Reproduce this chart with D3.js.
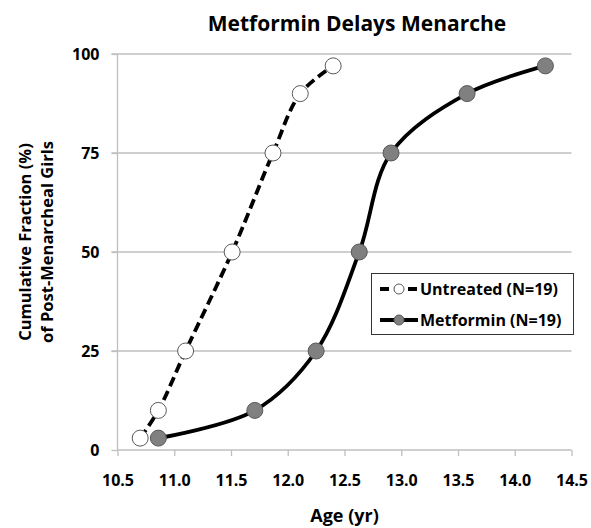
<!DOCTYPE html>
<html>
<head>
<meta charset="utf-8">
<script src="https://cdn.jsdelivr.net/npm/d3@7"></script>
<style>
  body { margin: 0; background: #fff; }
  text { font-family: "Open Sans", Lato, sans-serif; font-weight: 700; fill: #000; }
</style>
</head>
<body>
<div id="chart"></div>
<script>
// Chart data
var xTicks = [10.5, 11.0, 11.5, 12.0, 12.5, 13.0, 13.5, 14.0, 14.5];
var yTicks = [0, 25, 50, 75, 100];

var untreatedAge = [10.70, 10.86, 11.10, 11.51, 11.87, 12.11, 12.40];
var untreatedPct = [3, 10, 25, 50, 75, 90, 97];

var metforminAge = [10.86, 11.71, 12.25, 12.63, 12.91, 13.58, 14.27];
var metforminPct = [3, 10, 25, 50, 75, 90, 97];

var seriesNames = ["Untreated (N=19)", "Metformin (N=19)"];

// SVG area
var svgWidth = 591;
var svgHeight = 528;

var svg = d3.select("#chart")
  .append("svg")
  .attr("width", svgWidth)
  .attr("height", svgHeight);

// Scales
var xScale = d3.scaleLinear()
  .domain([10.5, 14.5])
  .range([117.5, 571.5]);

var yScale = d3.scaleLinear()
  .domain([0, 100])
  .range([450, 54]);

// Gridlines
svg.append("g")
  .selectAll("line")
  .data(yTicks.filter(d => d > 0))
  .enter()
  .append("line")
  .attr("x1", xScale(10.5) - 6)
  .attr("x2", xScale(14.5))
  .attr("y1", d => yScale(d))
  .attr("y2", d => yScale(d))
  .attr("stroke", "#bfbfbf")
  .attr("stroke-width", 1.3);

// Axes
var bottomAxis = d3.axisBottom(xScale)
  .tickValues(xTicks)
  .tickFormat(d3.format(".1f"))
  .tickSize(6)
  .tickPadding(19);

var leftAxis = d3.axisLeft(yScale)
  .tickValues(yTicks)
  .tickSize(6)
  .tickPadding(12);

var xAxisG = svg.append("g")
  .attr("transform", `translate(0, ${yScale(0)})`)
  .call(bottomAxis);

var yAxisG = svg.append("g")
  .attr("transform", `translate(${xScale(10.5)}, 0)`)
  .call(leftAxis);

[xAxisG, yAxisG].forEach(function(g) {
  g.select(".domain").attr("stroke", "#bfbfbf").attr("stroke-width", 1.3);
  g.selectAll(".tick line").attr("stroke", "#bfbfbf").attr("stroke-width", 1.3);
  g.selectAll(".tick text")
    .style("font-family", "'Open Sans', Lato, sans-serif")
    .style("font-weight", 700)
    .style("font-size", "16px")
    .attr("fill", "#000");
});
yAxisG.select(".domain").attr("d", `M0,${yScale(100)}V${yScale(0)}`);
xAxisG.select(".domain").attr("d", `M${xScale(10.5)},0H${xScale(14.5)}`);

// Lines
var untreatedData = untreatedAge.map((a, i) => [a, untreatedPct[i]]);
var metforminData = metforminAge.map((a, i) => [a, metforminPct[i]]);

var line = d3.line()
  .x(d => xScale(d[0]))
  .y(d => yScale(d[1]))
  .curve(d3.curveCatmullRom.alpha(0.5));

svg.append("path")
  .datum(untreatedData)
  .attr("d", line)
  .attr("fill", "none")
  .attr("stroke", "#000")
  .attr("stroke-width", 3.8)
  .attr("stroke-dasharray", "10,5");

svg.append("path")
  .datum(metforminData)
  .attr("d", line)
  .attr("fill", "none")
  .attr("stroke", "#000")
  .attr("stroke-width", 3.8);

// Markers
svg.append("g")
  .selectAll("circle")
  .data(untreatedData)
  .enter()
  .append("circle")
  .attr("cx", d => xScale(d[0]))
  .attr("cy", d => yScale(d[1]))
  .attr("r", 8)
  .attr("fill", "#fff")
  .attr("stroke", "#595959")
  .attr("stroke-width", 1);

svg.append("g")
  .selectAll("circle")
  .data(metforminData)
  .enter()
  .append("circle")
  .attr("cx", d => xScale(d[0]))
  .attr("cy", d => yScale(d[1]))
  .attr("r", 8)
  .attr("fill", "#808080")
  .attr("stroke", "#595959")
  .attr("stroke-width", 1);

// Title and axis titles
svg.append("text")
  .attr("x", 357)
  .attr("y", 31)
  .attr("text-anchor", "middle")
  .style("font-size", "21px")
  .text("Metformin Delays Menarche");

svg.append("text")
  .attr("x", 344.5)
  .attr("y", 522)
  .attr("text-anchor", "middle")
  .style("font-size", "18px")
  .text("Age (yr)");

var yTitle = svg.append("text")
  .attr("transform", "translate(0, 242) rotate(-90)")
  .attr("text-anchor", "middle")
  .style("font-size", "16.5px");
yTitle.append("tspan").attr("x", 0).attr("y", 31).text("Cumulative Fraction (%)");
yTitle.append("tspan").attr("x", 0).attr("y", 53).text("of Post-Menarcheal Girls");

// Legend
var legend = svg.append("g");
legend.append("rect")
  .attr("x", 371.5)
  .attr("y", 273.5)
  .attr("width", 202)
  .attr("height", 61)
  .attr("fill", "#fff")
  .attr("stroke", "#333")
  .attr("stroke-width", 1);

var legendRows = [
  { name: seriesNames[0], fill: "#fff", dash: "9,5", y: 289 },
  { name: seriesNames[1], fill: "#808080", dash: null, y: 320 }
];

legendRows.forEach(function(r) {
  legend.append("line")
    .attr("x1", 380).attr("x2", 418)
    .attr("y1", r.y).attr("y2", r.y)
    .attr("stroke", "#000")
    .attr("stroke-width", 3.8)
    .attr("stroke-dasharray", r.dash);
  legend.append("circle")
    .attr("cx", 399).attr("cy", r.y).attr("r", 5)
    .attr("fill", r.fill)
    .attr("stroke", "#595959");
  legend.append("text")
    .attr("x", 420)
    .attr("y", r.y + 6)
    .style("font-size", "16px")
    .text(r.name);
});
</script>
</body>
</html>
